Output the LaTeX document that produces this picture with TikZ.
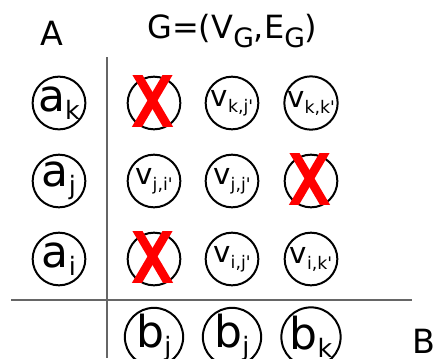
\documentclass[tikz,border=0pt]{standalone}
\usepackage{fontspec}
\setmainfont{DejaVu Sans}
\usepackage{tikz}
\newcommand{\bigsub}[2]{{\fontsize{33}{33}\selectfont #1}\raisebox{-6pt}{\fontsize{19}{19}\selectfont #2}}
\newcommand{\vsub}[2]{{\fontsize{22}{22}\selectfont #1}\raisebox{-4.5pt}{\fontsize{13}{13}\selectfont #2}}
\newcommand{\lowsub}[1]{\raisebox{-7pt}{\fontsize{20}{20}\selectfont #1}}
\newcommand{\pr}{\textquotesingle}
\tikzset{
  vtx/.style={draw, circle, line width=1.5pt, minimum size=39.5pt, inner sep=0pt},
  axis/.style={draw=black!60, line width=1.5pt},
  cross/.style={draw=red, line width=6.5pt},
  setlabel/.style={inner sep=0pt, font=\fontsize{25}{25}\selectfont},
  titlelabel/.style={inner sep=0pt, font=\fontsize{24}{24}\selectfont}
}

\begin{document}
\begin{tikzpicture}[x=0.75pt,y=-0.75pt]
\useasboundingbox (0,0) rectangle (433,358);
\coordinate (vtop) at (107,57);
\coordinate (vbot) at (107,358);
\coordinate (hleft) at (11,300);
\coordinate (hright) at (412,300);
\draw[axis] (vtop) -- (vbot);
\draw[axis] (hleft) -- (hright);
\node[setlabel] (A) at (52,33) {A};
\node[setlabel] (B) at (424,341) {B};
\node[titlelabel, anchor=base west] (G) at (147,38) {G=(V\lowsub{G},E\lowsub{G})};
% set A
\node[vtx] (ak) at (59,103) {\bigsub{a}{k}};
\node[vtx] (aj) at (59,181) {\bigsub{a}{j}};
\node[vtx] (ai) at (59,259) {\bigsub{a}{i}};
% set B
\node[vtx] (bi) at (154,337) {\bigsub{b}{j}};
\node[vtx] (bj) at (232,337) {\bigsub{b}{j}};
\node[vtx] (bk) at (311,337) {\bigsub{b}{k}};
% graph G
\node[vtx] (vki) at (154,103) {};
\node[vtx] (vkj) at (232,103) {\vsub{v}{k,j\pr}};
\node[vtx] (vkk) at (311,103) {\vsub{v}{k,k\pr}};
\node[vtx] (vji) at (154,181) {\vsub{v}{j,i\pr}};
\node[vtx] (vjj) at (232,181) {\vsub{v}{j,j\pr}};
\node[vtx] (vjk) at (311,181) {};
\node[vtx] (vii) at (154,259) {};
\node[vtx] (vij) at (232,259) {\vsub{v}{i,j\pr}};
\node[vtx] (vik) at (311,259) {\vsub{v}{i,k\pr}};
% removed vertices
\foreach \n in {vki,vjk,vii} {
  \begin{scope}
    \clip ([shift={(-30,-28)}]\n.center) rectangle ([shift={(30,23)}]\n.center);
    \draw[cross] ([shift={(-19.5,-33)}]\n.center) -- ([shift={(16.5,28)}]\n.center);
    \draw[cross] ([shift={(16.5,-33)}]\n.center) -- ([shift={(-19.5,28)}]\n.center);
  \end{scope}
}
\end{tikzpicture}
\end{document}
